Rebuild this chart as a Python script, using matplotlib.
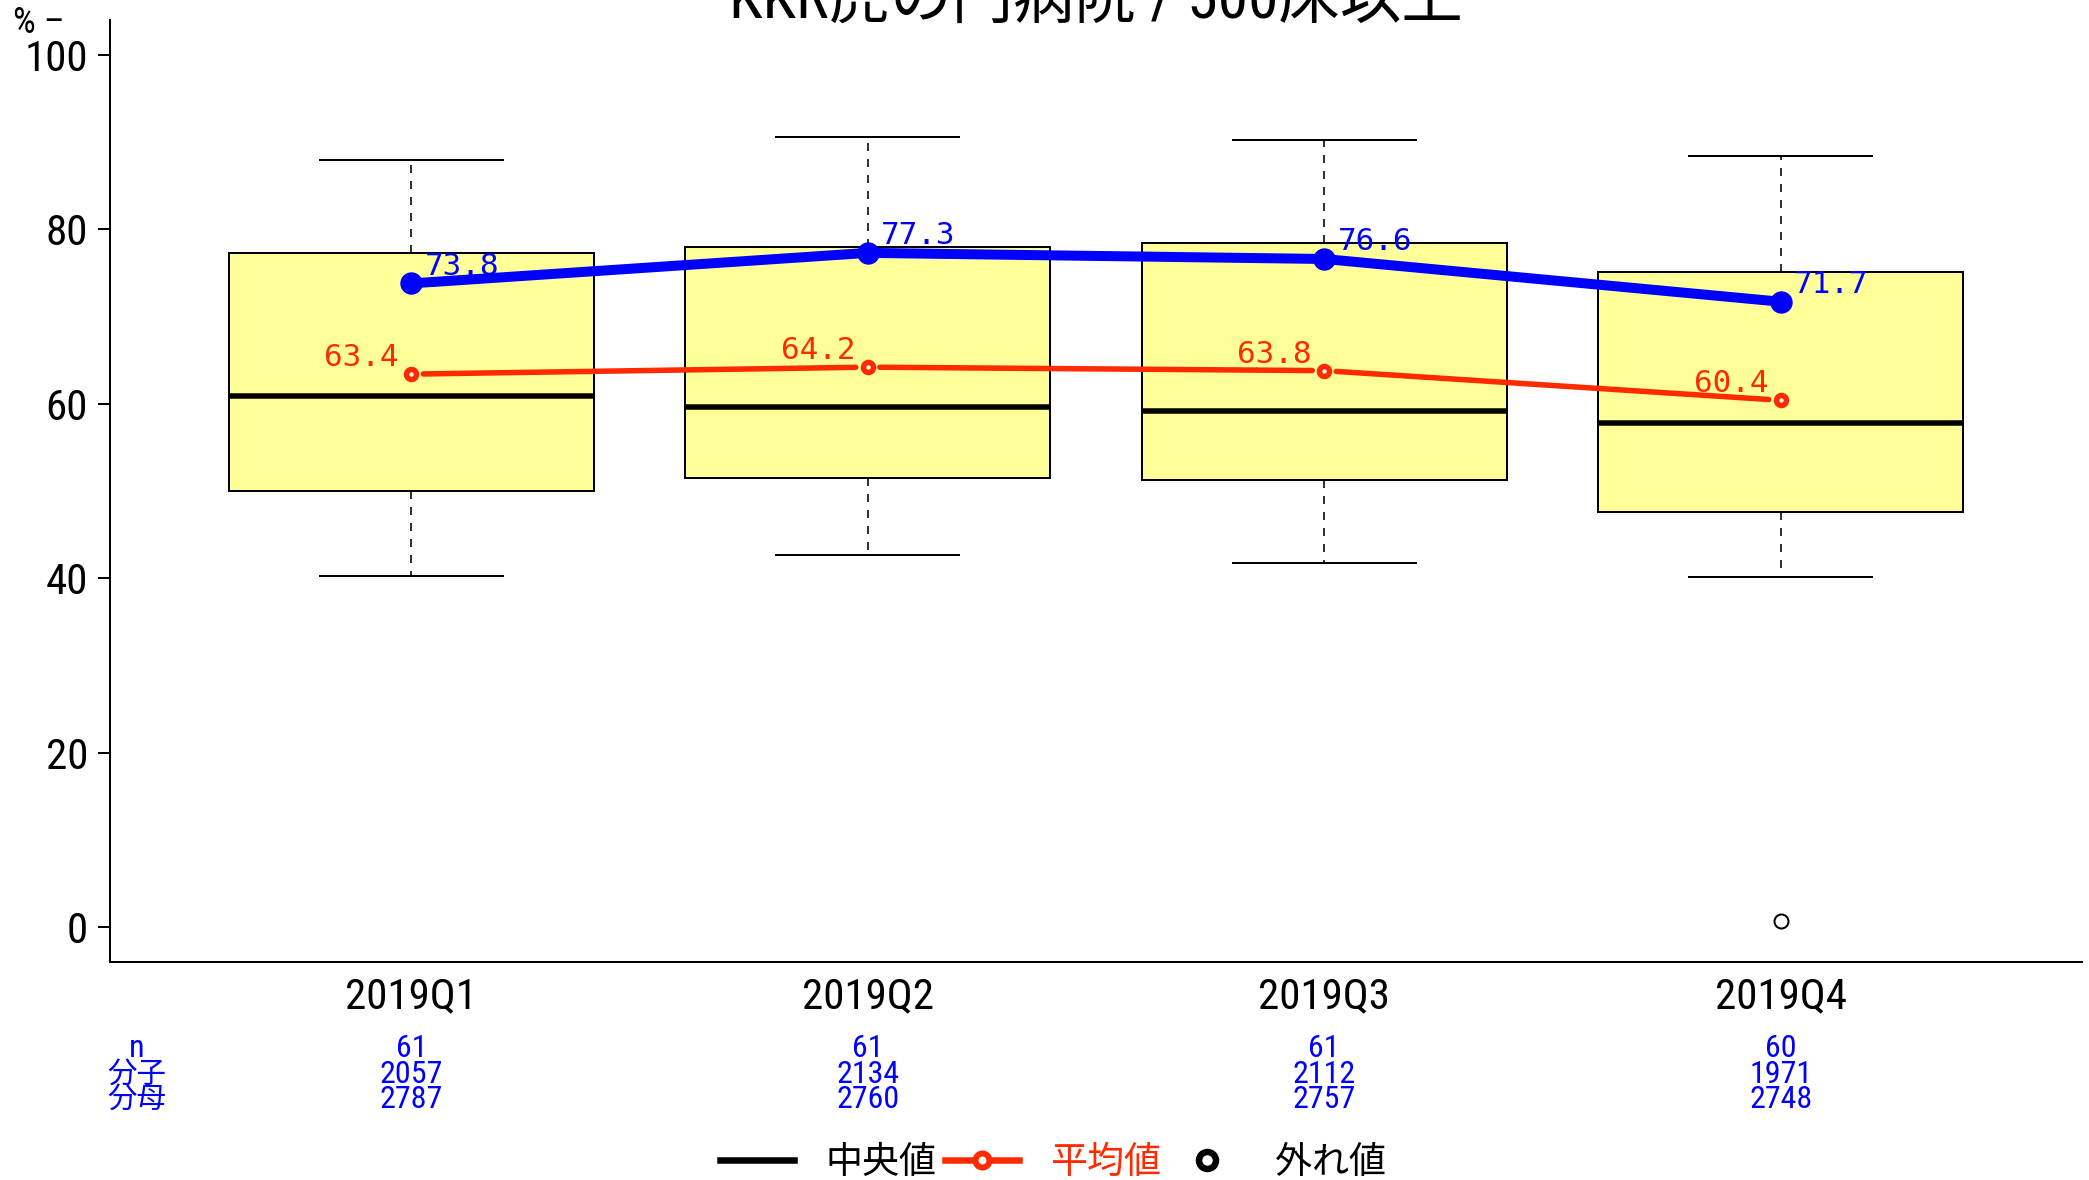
import matplotlib
matplotlib.use('Agg')
import matplotlib.pyplot as plt
from matplotlib import font_manager as fm
from matplotlib.lines import Line2D
from matplotlib.transforms import blended_transform_factory
import numpy as np

# ---------------- data ----------------
categories = ['2019Q1', '2019Q2', '2019Q3', '2019Q4']
whisker_low = [40.2, 42.7, 41.7, 40.15]
box_q1 = [50.05, 51.5, 51.3, 47.55]
median = [60.9, 59.6, 59.15, 57.8]
box_q3 = [77.3, 78.0, 78.4, 75.1]
whisker_high = [87.9, 90.6, 90.2, 88.45]
outliers = [[], [], [], [0.7]]
mean_values = [63.4, 64.2, 63.8, 60.4]
hospital_values = [73.8, 77.3, 76.6, 71.7]
n_values = [61, 61, 61, 60]
numerators = [2057, 2134, 2112, 1971]
denominators = [2787, 2760, 2757, 2748]
yticks = [0, 20, 40, 60, 80, 100]
title = 'KKR虎の門病院 / 500床以上'
row_labels = ['n', '分子', '分母']
legend_labels = ['中央値', '平均値', '外れ値']

# ---------------- style ----------------
W, H, DPI = 2089, 1180, 100
P = 72.0 / DPI  # points per pixel
names = {f.name for f in fm.fontManager.ttflist}
NARROW = None
for cand in ['Liberation Sans Narrow', 'Arial Narrow', 'Roboto Condensed',
             'Noto Sans Condensed', 'Open Sans Condensed', 'DejaVu Sans Condensed']:
    if cand in names:
        NARROW = cand
        break
if NARROW is None:
    NARROW = 'Liberation Sans'
    SZ = dict(tick=38, table=29, pct=33, title=58)
else:
    SZ = dict(tick=43, table=32, pct=36, title=61.5)
CJK = 'Noto Sans CJK JP'
MONO = 'DejaVu Sans Mono'
BLUE = '#0000FF'
RED = '#FF2A00'
BOXFILL = '#FFFF99'

fig = plt.figure(figsize=(W / DPI, H / DPI), dpi=DPI)
ax_l, ax_r, ax_t, ax_b = 110, 2082, 20, 962
ax = fig.add_axes([ax_l / W, 1 - ax_b / H, (ax_r - ax_l) / W, (ax_b - ax_t) / H])

positions = np.arange(1, len(categories) + 1)
stats = []
for i in range(len(categories)):
    stats.append(dict(med=median[i], q1=box_q1[i], q3=box_q3[i],
                      whislo=whisker_low[i], whishi=whisker_high[i],
                      fliers=outliers[i]))

ax.bxp(stats, positions=positions, widths=0.8, capwidths=0.4,
       patch_artist=True, showfliers=True,
       boxprops=dict(facecolor=BOXFILL, edgecolor='black', linewidth=2 * P),
       whiskerprops=dict(color='black', linewidth=1.6 * P, linestyle=(0, (5, 5))),
       capprops=dict(color='black', linewidth=2 * P),
       medianprops=dict(color='black', linewidth=5.5 * P, solid_capstyle='butt'),
       flierprops=dict(marker='o', markerfacecolor='none', markeredgecolor='black',
                       markersize=14 * P, markeredgewidth=2 * P))

ax.set_xlim(0.34, 4.66)
ax.set_ylim(-4, 104)

# mean line (with gaps around points)
trans = ax.transData
pts = trans.transform(np.column_stack([positions, mean_values]))
gap = 12
for i in range(len(pts) - 1):
    p0, p1 = pts[i], pts[i + 1]
    d = p1 - p0
    u = d / np.hypot(*d)
    seg = trans.inverted().transform(np.array([p0 + u * gap, p1 - u * gap]))
    ax.plot(seg[:, 0], seg[:, 1], color=RED, lw=5.5 * P, solid_capstyle='round', zorder=4)
ax.plot(positions, mean_values, ls='none', marker='o', ms=10 * P, mew=5.5 * P,
        mfc='white', mec=RED, zorder=5)

# hospital line
ax.plot(positions, hospital_values, color=BLUE, lw=10 * P, marker='o', ms=21 * P,
        mfc=BLUE, mec=BLUE, zorder=6, solid_capstyle='round')

for x, v in zip(positions, mean_values):
    ax.annotate(f'{v:.1f}', (x, v), xytext=(-12.5 * P, 8 * P), textcoords='offset points',
                ha='right', va='baseline', color=RED, fontsize=31 * P, family=MONO, zorder=7)
for x, v in zip(positions, hospital_values):
    ax.annotate(f'{v:.1f}', (x, v), xytext=(13.5 * P, 8.5 * P), textcoords='offset points',
                ha='left', va='baseline', color=BLUE, fontsize=31 * P, family=MONO, zorder=7)

# axes styling
for s in ['top', 'right']:
    ax.spines[s].set_visible(False)
for s in ['left', 'bottom']:
    ax.spines[s].set_linewidth(2 * P)
ax.set_yticks(yticks)
ax.set_yticklabels([str(t) for t in yticks], family=NARROW, fontsize=SZ['tick'] * P)
ax.set_xticks(positions)
ax.set_xticklabels(categories, family=NARROW, fontsize=SZ['tick'] * P)
ax.tick_params(axis='y', length=12 * P, width=2 * P, pad=10 * P)
ax.tick_params(axis='x', length=0, pad=14 * P)

# y unit label
fig.text(13 / W, 1 - 33 / H, '% –', ha='left', va='baseline', family=NARROW,
         fontsize=SZ['pct'] * P)

# title
fig.text((ax_l + ax_r) / 2 / W, 1 - 19 / H, title, ha='center', va='baseline',
         family=[NARROW, CJK], fontsize=SZ['title'] * P)

# table below axis
bt = blended_transform_factory(ax.transData, fig.transFigure)
row_base = [1057, 1083, 1108]
rows = [n_values, numerators, denominators]
for r, (lab, vals) in enumerate(zip(row_labels, rows)):
    yb = 1 - row_base[r] / H
    if lab == 'n':
        fig.text(137 / W, yb, lab, ha='center', va='baseline', color=BLUE,
                 family=NARROW, fontsize=SZ['table'] * P)
    else:
        fig.text(137 / W, yb, lab, ha='center', va='baseline', color=BLUE,
                 family=CJK, fontsize=29.5 * P)
    for x, v in zip(positions, vals):
        ax.text(x, yb, str(v), transform=bt, ha='center', va='baseline', color=BLUE,
                family=NARROW, fontsize=SZ['table'] * P, clip_on=False)

# legend
handles = [
    Line2D([], [], color='black', lw=6.5 * P),
    Line2D([], [], color=RED, lw=6.5 * P, marker='o', ms=14 * P, mew=6 * P, mfc='white', mec=RED),
    Line2D([], [], ls='none', marker='o', ms=17 * P, mew=6.5 * P, mfc='white', mec='black'),
]
leg = fig.legend(handles, legend_labels, loc='center', bbox_to_anchor=(1053 / W, 1 - 1162 / H),
                 ncol=3, frameon=False, prop=dict(family=CJK, size=37 * P),
                 handlelength=74 / 37, handletextpad=32 / 37, columnspacing=8 / 37,
                 borderpad=0, borderaxespad=0)
leg.get_texts()[1].set_color(RED)

fig.savefig('out.png', dpi=DPI)
